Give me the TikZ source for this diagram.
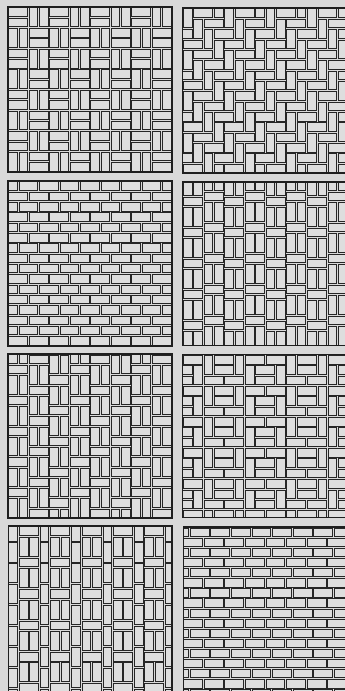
\documentclass[tikz,border=0pt]{standalone}
\newcommand\brk[4]{\draw[brickbox] ({#1+0.9},{#2+0.9}) rectangle ({#1+#3-0.9},{#2+#4-0.9});}
\begin{document}
\begin{tikzpicture}[x=1pt,y=-1pt,
 brickbox/.style={draw=black!85, line width=0.9pt, fill=black!13},
 panelframe/.style={draw=black!88, line width=1.8pt}]
\useasboundingbox (0,0) rectangle (345,691);
\fill[black!15] (0,0) rectangle (345,691);

% Panel 1: basket weave
\begin{scope}
\clip (8,7) rectangle (172,172);
\foreach \i in {0,...,7}{\foreach \j in {0,...,7}{
 \pgfmathsetmacro\x{8+\i*20.5}\pgfmathsetmacro\y{7+\j*20.625}
 \pgfmathtruncatemacro\p{mod(\i+\j,2)}
 \ifnum\p=0 \brk{\x}{\y}{20.5}{10.3125}\brk{\x}{\y+10.3125}{20.5}{10.3125}
 \else \brk{\x}{\y}{10.25}{20.625}\brk{\x+10.25}{\y}{10.25}{20.625}\fi
}}
\end{scope}
\draw[panelframe] (8,7) rectangle (172,172);

% Panel 2: herringbone
\begin{scope}
\clip (182.5,8) rectangle (352,172.7);
\foreach \a in {-2,...,17}{\foreach \b in {-2,...,17}{
 \pgfmathsetmacro\x{182.5+\a*10.35}\pgfmathsetmacro\y{8+\b*10.35}
 \pgfmathtruncatemacro\r{mod(\a-(\b)+40,4)}
 \ifnum\r=1 \brk{\x}{\y}{20.7}{10.35}\fi
 \ifnum\r=0 \brk{\x}{\y}{10.35}{20.7}\fi
}}
\end{scope}
\draw[panelframe] (182.5,8) rectangle (352,172.7);

% Panel 3: running bond
\begin{scope}
\clip (8,181) rectangle (172,346);
\foreach \j in {0,...,15}{\foreach \k in {0,...,8}{
 \pgfmathsetmacro\x{8-ifthenelse(mod(\j,2)==0,10.25,0)+\k*20.5}
 \pgfmathsetmacro\y{181+\j*10.3125}
 \brk{\x}{\y}{20.5}{10.3125}
}}
\end{scope}
\draw[panelframe] (8,181) rectangle (172,346);

% Panel 4: columns of pairs and stretchers
\begin{scope}
\clip (182.5,181.7) rectangle (352,345.5);
\foreach \k in {0,...,8}{\foreach \n in {-1,...,5}{
 \pgfmathsetmacro\x{182.5+\k*20.7}
 \pgfmathsetmacro\y{181.7+ifthenelse(mod(\k,2)==0,14.5,9.5)+\n*31.05}
 \brk{\x}{\y}{20.7}{10.35}
 \brk{\x}{\y+10.35}{10.35}{20.7}
 \brk{\x+10.35}{\y+10.35}{10.35}{20.7}
}}
\end{scope}
\draw[panelframe] (182.5,181.7) rectangle (352,345.5);

% Panel 5: stepped columns
\begin{scope}
\clip (8,354.3) rectangle (172,518.3);
\foreach \k in {0,...,7}{\foreach \n in {-1,...,6}{
 \pgfmathsetmacro\x{8+\k*20.5}
 \pgfmathsetmacro\y{354.3+mod(1-\k+30,3)*10.25+\n*30.75}
 \brk{\x}{\y}{20.5}{10.25}
 \brk{\x}{\y+10.25}{10.25}{20.5}
 \brk{\x+10.25}{\y+10.25}{10.25}{20.5}
}}
\end{scope}
\draw[panelframe] (8,354.3) rectangle (172,518.3);

% Panel 6: wide columns
\begin{scope}
\clip (182.5,354.5) rectangle (352,517.5);
\foreach \c in {0,...,4}{\foreach \n in {-1,...,5}{
 \pgfmathsetmacro\x{182.5-20.7+\c*41.4}
 \pgfmathsetmacro\y{354.5+mod(\c,2)*20.7+\n*31.05}
 \brk{\x}{\y}{20.7}{10.35}
 \brk{\x+20.7}{\y}{20.7}{10.35}
 \brk{\x}{\y+10.35}{10.35}{20.7}
 \brk{\x+10.35}{\y+10.35}{20.7}{10.35}
 \brk{\x+10.35}{\y+20.7}{20.7}{10.35}
 \brk{\x+31.05}{\y+10.35}{10.35}{20.7}
}}
\end{scope}
\draw[panelframe] (182.5,354.5) rectangle (352,517.5);

% Panel 7: soldier columns and pairs
\begin{scope}
\clip (8.5,526) rectangle (172,700);
\foreach \g in {0,...,5}{
 \pgfmathsetmacro\xn{8+\g*31.35}
 \foreach \n in {-1,...,9}{
  \pgfmathsetmacro\y{526-4.9+\n*20.9}
  \brk{\xn}{\y}{10.45}{20.9}
 }
 \foreach \n in {0,...,6}{
  \pgfmathsetmacro\y{526+\n*31.35}
  \brk{\xn+10.45}{\y}{20.9}{10.45}
  \brk{\xn+10.45}{\y+10.45}{10.45}{20.9}
  \brk{\xn+20.9}{\y+10.45}{10.45}{20.9}
 }
}
\end{scope}
\draw[panelframe] (8.5,526) rectangle (172,700);

% Panel 8: offset running bond
\begin{scope}
\clip (183.5,527) rectangle (352,700);
\foreach \j in {0,...,17}{\foreach \k in {0,...,9}{
 \pgfmathsetmacro\x{ifthenelse(mod(\j,2)==0,210,203.3)-41.2+\k*20.6}
 \pgfmathsetmacro\y{527.3+\j*10.1}
 \brk{\x}{\y}{20.6}{10.1}
}}
\end{scope}
\draw[panelframe] (183.5,527) rectangle (352,700);
\end{tikzpicture}
\end{document}
